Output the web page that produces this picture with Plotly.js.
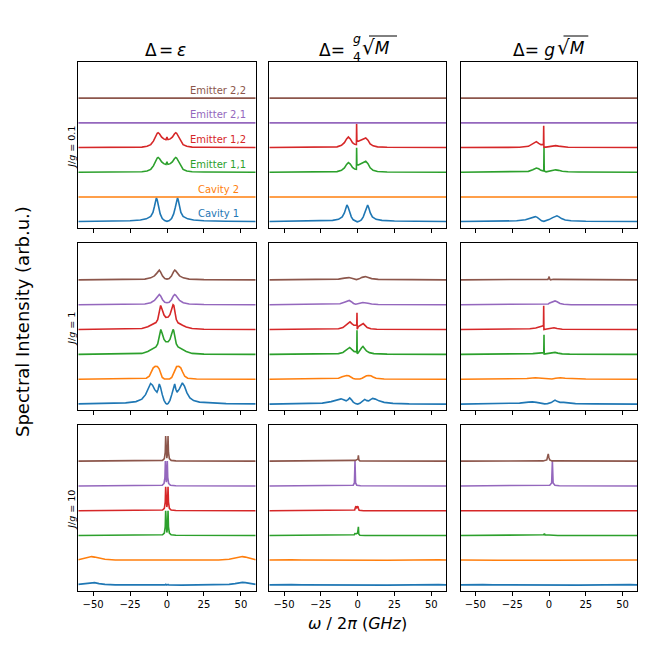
<!DOCTYPE html>
<html>
<head>
<meta charset="utf-8">
<script src="https://cdn.plot.ly/plotly-3.0.1.min.js"></script>
<style>html,body{margin:0;padding:0;background:#fff}#chart{width:648px;height:648px}</style>
</head>
<body>
<div id="chart"></div>
<script>
// Stacked spectra: 3 detunings (columns) x 3 couplings J/g (rows), 6 modes each
const SERIES = ['Cavity 1', 'Cavity 2', 'Emitter 1,1', 'Emitter 1,2', 'Emitter 2,1', 'Emitter 2,2'];
const COLORS = ['#1f77b4', '#ff7f0e', '#2ca02c', '#d62728', '#9467bd', '#8c564b'];
const OFFSETS = [0, 1, 2, 3, 4, 5];
const XTICKS = [-50, -25, 0, 25, 50];
const ROW_LABELS = ['<i>J</i>/<i>g</i> = 0.1', '<i>J</i>/<i>g</i> = 1', '<i>J</i>/<i>g</i> = 10'];

// each curve: [omega/2pi (GHz), intensity]
const FLAT = [[-60, 0], [60, 0]];

// row 1: J/g = 0.1
const P11_CAV1 = [[-60,0.01],[-40,0.02],[-25,0.04],[-18,0.07],[-14,0.12],[-11,0.22],[-9.5,0.38],[-8.5,0.62],[-7.7,0.88],[-7.2,0.97],[-6.6,0.88],[-5.7,0.58],[-4.6,0.32],[-3.2,0.13],[-1.6,0.05],[0,0.02],[1.6,0.05],[3.1,0.13],[4.5,0.32],[5.6,0.58],[6.5,0.88],[7.1,0.97],[7.6,0.88],[8.4,0.62],[9.4,0.38],[10.9,0.22],[14,0.12],[18,0.07],[25,0.04],[40,0.02],[60,0.01]];
const P11_EM11 = [[-60,0],[-25,0.01],[-17,0.02],[-13.5,0.05],[-11,0.12],[-9.2,0.26],[-7.7,0.46],[-6.6,0.58],[-6,0.6],[-5,0.55],[-3.6,0.42],[-2.2,0.35],[-0.7,0.32],[-0.25,0.36],[0,0.43],[0.25,0.36],[0.7,0.32],[2.2,0.35],[3.6,0.42],[5,0.55],[5.9,0.6],[6.5,0.58],[7.6,0.46],[9.1,0.26],[10.9,0.12],[13.4,0.05],[17,0.02],[25,0.01],[60,0]];
const P11_EM12 = [[-60,0],[-25,0.01],[-17,0.02],[-13.5,0.05],[-11,0.12],[-9.2,0.26],[-7.7,0.46],[-6.6,0.58],[-6,0.6],[-5,0.55],[-3.6,0.42],[-2.2,0.35],[-0.7,0.32],[-0.25,0.36],[0,0.43],[0.25,0.36],[0.7,0.32],[2.2,0.35],[3.6,0.42],[5,0.55],[5.9,0.6],[6.5,0.58],[7.6,0.46],[9.1,0.26],[10.9,0.12],[13.4,0.05],[17,0.02],[25,0.01],[60,0]];

const P12_CAV1 = [[-60,0.01],[-40,0.02],[-25,0.03],[-17,0.06],[-13,0.1],[-10.5,0.2],[-9,0.36],[-8,0.56],[-7.3,0.68],[-6.5,0.6],[-5.5,0.4],[-4.3,0.2],[-3,0.08],[-1.5,0.02],[-0.3,0],[1,0.02],[2.5,0.08],[3.8,0.2],[5,0.4],[6,0.6],[6.8,0.68],[7.6,0.56],[8.6,0.36],[10,0.2],[12.5,0.1],[16.5,0.06],[25,0.03],[40,0.02],[60,0.01]];
const P12_EM11 = [[-60,0],[-20,0.01],[-14,0.03],[-11,0.08],[-9,0.18],[-7.5,0.32],[-6.3,0.39],[-5,0.33],[-3.5,0.2],[-2,0.13],[-0.85,0.12],[-0.7,0.99],[-0.5,0.3],[0.5,0.3],[2,0.34],[3.5,0.4],[5.5,0.45],[7,0.35],[8.5,0.18],[10.5,0.08],[13.5,0.03],[20,0.01],[60,0]];
const P12_EM12 = [[-60,0],[-20,0.01],[-14,0.03],[-11,0.09],[-9,0.2],[-7.5,0.35],[-6.3,0.43],[-5,0.35],[-3.5,0.2],[-2,0.13],[-0.85,0.12],[-0.7,0.96],[-0.5,0.25],[0.5,0.26],[2,0.3],[3.5,0.35],[5.5,0.39],[7,0.3],[8.5,0.15],[10.5,0.07],[13.5,0.03],[20,0.01],[60,0]];

const P13_CAV1 = [[-60,0.01],[-35,0.02],[-22,0.04],[-16,0.08],[-12.5,0.14],[-10.5,0.19],[-9.3,0.21],[-8,0.18],[-6.5,0.1],[-5,0.04],[-3.5,0.02],[-2,0.04],[0,0.09],[2.5,0.17],[4.3,0.23],[5.4,0.24],[6.8,0.2],[8.5,0.13],[11,0.07],[15,0.04],[25,0.02],[60,0.01]];
const P13_EM11 = [[-60,0],[-20,0.01],[-14,0.04],[-11,0.1],[-8.6,0.17],[-7,0.14],[-5.5,0.08],[-4,0.06],[-3.55,0.07],[-3.4,0.99],[-3.25,0.05],[-2,0.02],[0,0.04],[2.5,0.08],[4.5,0.1],[6.5,0.08],[9,0.04],[13,0.02],[20,0.01],[60,0]];
const P13_EM12 = [[-60,0],[-20,0.01],[-14,0.05],[-11,0.14],[-8.6,0.24],[-7,0.17],[-5.5,0.12],[-4.2,0.13],[-3.75,0.15],[-3.6,0.88],[-3.45,0.02],[-2,0.02],[0,0.04],[2.5,0.07],[4.5,0.08],[6.5,0.06],[9,0.03],[13,0.01],[60,0]];

// row 2: J/g = 1
const P21_CAV1 = [[-60,0.01],[-40,0.02],[-28,0.05],[-21,0.1],[-17,0.2],[-14.5,0.38],[-12.7,0.64],[-11.1,0.83],[-9.8,0.76],[-8.3,0.58],[-6.8,0.48],[-6,0.6],[-5.2,0.81],[-4.4,0.68],[-3.2,0.38],[-2,0.15],[-0.8,0.03],[0,0],[0.8,0.03],[2,0.15],[3.2,0.38],[4.4,0.68],[5.2,0.81],[6,0.6],[6.8,0.48],[8.3,0.6],[9.3,0.76],[10.4,0.85],[11.8,0.72],[13.5,0.45],[15.5,0.25],[18,0.14],[22,0.08],[28,0.05],[40,0.02],[60,0.01]];
const P21_CAV2 = [[-60,0],[-20,0.01],[-14,0.04],[-12,0.12],[-10.5,0.3],[-9.3,0.46],[-8,0.52],[-6.5,0.51],[-5.3,0.42],[-4.3,0.22],[-3.2,0.07],[-1.8,0.01],[0,0],[1.8,0.01],[3.2,0.07],[4.3,0.22],[5.3,0.42],[6.5,0.51],[8,0.52],[9.3,0.46],[10.5,0.3],[12,0.12],[14,0.04],[20,0.01],[60,0]];
const P21_EM11 = [[-60,0],[-25,0.01],[-17,0.04],[-13,0.12],[-10.5,0.2],[-9,0.25],[-7.5,0.3],[-6.3,0.42],[-5.5,0.7],[-4.6,0.97],[-4.2,1.0],[-3.3,0.85],[-2,0.6],[-0.8,0.51],[0,0.5],[0.8,0.51],[2,0.6],[3.3,0.85],[4.1,1.0],[4.5,0.97],[5.5,0.7],[6.3,0.42],[7.5,0.3],[9,0.25],[10.5,0.2],[13,0.12],[17,0.04],[25,0.01],[60,0]];
const P21_EM12 = [[-60,0],[-25,0.01],[-17,0.04],[-13,0.11],[-10.5,0.18],[-9,0.22],[-7.5,0.28],[-6.3,0.4],[-5.5,0.68],[-4.6,0.95],[-4.3,0.97],[-3.4,0.83],[-2,0.58],[-0.8,0.49],[0,0.48],[0.8,0.5],[2,0.6],[3.3,0.86],[4.1,1.0],[4.6,0.97],[5.5,0.68],[6.3,0.4],[7.5,0.27],[9,0.21],[10.5,0.17],[13,0.1],[17,0.04],[25,0.01],[60,0]];
const P21_EM21 = [[-60,0],[-25,0.01],[-15,0.03],[-11,0.08],[-8.5,0.17],[-7,0.28],[-5.8,0.39],[-5.2,0.41],[-4.3,0.35],[-3,0.2],[-1.5,0.1],[0,0.08],[1.5,0.1],[3,0.2],[4.3,0.35],[5.2,0.41],[5.8,0.39],[7,0.28],[8.5,0.17],[11,0.08],[15,0.03],[25,0.01],[60,0]];
const P21_EM22 = [[-60,0],[-25,0.01],[-15,0.03],[-11,0.08],[-8.5,0.16],[-7,0.26],[-5.8,0.37],[-5.2,0.39],[-4.3,0.31],[-3,0.15],[-1.5,0.05],[0,0.03],[1.5,0.05],[3,0.15],[4.3,0.31],[5.2,0.39],[5.8,0.37],[7,0.26],[8.5,0.16],[11,0.08],[15,0.03],[25,0.01],[60,0]];

const P22_CAV1 = [[-60,0],[-35,0.01],[-24,0.04],[-18,0.1],[-14,0.17],[-11.3,0.21],[-9.5,0.17],[-7.8,0.13],[-6.5,0.18],[-5.4,0.25],[-4.3,0.18],[-3,0.08],[-1.5,0.02],[0,0],[1.5,0.03],[3,0.1],[4.8,0.19],[6.3,0.14],[7.5,0.13],[9,0.19],[10.2,0.23],[12,0.2],[14.5,0.13],[18,0.07],[24,0.03],[35,0.01],[60,0]];
const P22_CAV2 = [[-60,0],[-18,0.01],[-13,0.04],[-10.5,0.1],[-8.8,0.14],[-7.5,0.15],[-6,0.14],[-4.5,0.08],[-3,0.03],[-1.5,0.01],[0,0],[1.5,0.01],[3,0.04],[4.5,0.1],[6,0.14],[7.5,0.15],[9,0.14],[10.5,0.09],[12.5,0.04],[18,0.01],[60,0]];
const P22_EM11 = [[-60,0],[-20,0.01],[-13,0.03],[-10,0.08],[-7.5,0.18],[-5.4,0.28],[-4,0.2],[-2.5,0.12],[-1,0.1],[-0.6,0.12],[-0.45,0.97],[-0.3,0.03],[0.3,0.06],[1.5,0.18],[2.7,0.27],[3.6,0.32],[4.6,0.24],[6,0.14],[8,0.07],[11,0.03],[20,0.01],[60,0]];
const P22_EM12 = [[-60,0],[-20,0.01],[-13,0.03],[-10,0.08],[-7.5,0.2],[-5.2,0.31],[-4,0.24],[-2.5,0.17],[-1,0.17],[-0.6,0.2],[-0.45,0.67],[-0.3,0.01],[0.5,0.12],[2,0.18],[3.8,0.24],[5,0.17],[6.5,0.08],[9,0.03],[13,0.01],[60,0]];
const P22_EM21 = [[-60,0],[-18,0.01],[-12,0.04],[-9,0.1],[-7,0.15],[-5.7,0.17],[-4.3,0.12],[-2.8,0.05],[-1.3,0.02],[0,0.03],[1.5,0.06],[3.5,0.09],[5.2,0.09],[7,0.06],[9.5,0.03],[14,0.01],[60,0]];
const P22_EM22 = [[-60,0],[-20,0.01],[-13,0.03],[-9,0.07],[-5.9,0.09],[-4,0.06],[-2,0.02],[-0.8,0.01],[1,0.04],[3,0.1],[5.2,0.13],[7,0.1],[9.5,0.05],[14,0.02],[25,0.01],[60,0]];

const P23_CAV1 = [[-60,0],[-30,0.01],[-20,0.04],[-14,0.08],[-11.3,0.09],[-8.5,0.07],[-5.5,0.03],[-3,0.01],[-1,0.02],[1.5,0.06],[3,0.12],[4.1,0.16],[5.5,0.11],[7.5,0.07],[10,0.07],[13,0.04],[18,0.02],[30,0.01],[60,0]];
const P23_CAV2 = [[-60,0],[-22,0.01],[-15,0.03],[-9.3,0.06],[-5,0.03],[-2,0.01],[0,0],[2,0.01],[4.5,0.04],[7.7,0.06],[11,0.04],[17,0.02],[25,0.01],[60,0]];
const P23_EM11 = [[-60,0],[-18,0.01],[-11,0.03],[-7,0.05],[-4.5,0.06],[-3.55,0.07],[-3.4,0.79],[-3.25,0.01],[-1.5,0.03],[0.5,0.05],[2.5,0.07],[4.1,0.08],[6,0.05],[9,0.02],[14,0.01],[60,0]];
const P23_EM12 = [[-60,0],[-20,0.01],[-13,0.03],[-9,0.06],[-6,0.1],[-4.5,0.14],[-3.75,0.17],[-3.6,0.96],[-3.45,0],[-1.5,0.02],[0.5,0.04],[2,0.06],[3.4,0.07],[5.5,0.04],[9,0.01],[60,0]];
const P23_EM21 = [[-60,0],[-10,0],[-3,0.01],[-0.5,0.03],[0.5,0.07],[2.5,0.11],[4.1,0.15],[5.5,0.12],[7.5,0.05],[10,0.02],[15,0],[60,0]];
const P23_EM22 = [[-60,0],[-15,0.01],[-6.8,0.03],[-3,0.01],[-0.8,0.02],[-0.2,0.08],[0.1,0.13],[0.4,0.04],[1,0],[3,0.02],[6,0.02],[10,0.01],[60,0]];

// row 3: J/g = 10
const P31_CAV1 = [[-60,0.03],[-56,0.06],[-53,0.1],[-51,0.11],[-49,0.1],[-46,0.06],[-42,0.03],[-35,0.01],[-10,0],[-1.2,0.01],[-0.8,0.03],[-0.1,0],[0.7,0.03],[1.1,0.01],[10,0],[35,0.01],[42,0.03],[46,0.06],[49,0.1],[51,0.11],[53,0.1],[56,0.06],[60,0.03]];
const P31_CAV2 = [[-60,0.02],[-56,0.08],[-53,0.13],[-51,0.15],[-49,0.13],[-46,0.08],[-42,0.04],[-35,0.01],[-10,0],[-1.2,0.01],[-0.8,0.02],[-0.1,0],[0.7,0.02],[1.1,0.01],[10,0],[35,0.01],[42,0.04],[46,0.08],[49,0.13],[51,0.15],[53,0.13],[56,0.08],[60,0.02]];
const P31_EM11 = [[-60,0],[-6,0.01],[-3,0.03],[-1.8,0.1],[-1.2,0.35],[-0.9,1.0],[-0.6,0.35],[-0.1,0.12],[0.4,0.35],[0.7,1.0],[1.0,0.35],[1.6,0.1],[2.8,0.03],[6,0.01],[60,0]];
const P31_EM12 = [[-60,0],[-6,0.01],[-3,0.03],[-1.8,0.1],[-1.2,0.35],[-0.9,0.97],[-0.6,0.35],[-0.1,0.15],[0.4,0.35],[0.7,0.97],[1.0,0.35],[1.6,0.1],[2.8,0.03],[6,0.01],[60,0]];
const P31_EM21 = [[-60,0],[-6,0.01],[-3.2,0.03],[-2,0.1],[-1.4,0.35],[-1.1,1.0],[-0.8,0.35],[-0.45,0.15],[-0.1,0.35],[0.2,1.0],[0.5,0.35],[1.1,0.1],[2.3,0.03],[6,0.01],[60,0]];
const P31_EM22 = [[-60,0],[-6,0.01],[-3,0.03],[-1.8,0.1],[-1.2,0.35],[-0.9,1.01],[-0.6,0.35],[-0.1,0.12],[0.4,0.35],[0.7,1.01],[1.0,0.35],[1.6,0.1],[2.8,0.03],[6,0.01],[60,0]];

const P32_CAV1 = [[-60,0.01],[-55,0.02],[-50,0.03],[-45,0.02],[-38,0.01],[-20,0],[20,0],[38,0.01],[45,0.02],[50,0.03],[55,0.02],[60,0.01]];
const P32_CAV2 = [[-60,0.01],[-55,0.02],[-50,0.03],[-45,0.02],[-38,0.01],[-20,0],[20,0],[38,0.01],[45,0.02],[50,0.03],[55,0.02],[60,0.01]];
const P32_EM11 = [[-60,0],[-5,0.01],[-2.3,0.03],[-1.9,0.08],[-0.8,0.07],[0,0.1],[0.3,0.18],[0.5,0.35],[0.75,0.06],[1.5,0.01],[5,0],[60,0]];
const P32_EM12 = [[-60,0],[-4,0.01],[-2,0.03],[-1.5,0.14],[-1.1,0.18],[-0.6,0.12],[-0.2,0.17],[0.1,0.18],[0.5,0.1],[1,0.02],[4,0],[60,0]];
const P32_EM21 = [[-60,0],[-5,0.01],[-3,0.03],[-2.2,0.12],[-1.8,1.0],[-1.4,0.12],[-0.6,0.03],[2,0.01],[60,0]];
const P32_EM22 = [[-60,0],[-4,0.01],[-1.5,0.03],[-0.5,0.06],[0.2,0.08],[0.5,0.23],[0.8,0.05],[1.5,0.01],[60,0]];

const P33_CAV1 = [[-60,0.01],[-55,0.02],[-50,0.03],[-45,0.02],[-38,0.01],[-20,0],[20,0],[38,0.01],[45,0.02],[50,0.03],[55,0.02],[60,0.01]];
const P33_CAV2 = [[-60,0.01],[-50,0.015],[-35,0.005],[0,0],[35,0.005],[50,0.015],[60,0.01]];
const P33_EM11 = [[-60,0],[-6,0.01],[-3.6,0.03],[-3.1,0.08],[-2.6,0.02],[0,0.02],[2,0.01],[6,0],[60,0]];
const P33_EM12 = [[-60,0],[-6,0],[-4.2,0.03],[-3.5,0.01],[2,0.01],[60,0]];
const P33_EM21 = [[-60,0],[-2,0.01],[0.5,0.03],[1.8,0.12],[2.3,1.0],[2.8,0.12],[4,0.03],[7,0.01],[60,0]];
const P33_EM22 = [[-60,0],[-4,0.01],[-1.5,0.05],[-0.9,0.15],[-0.5,0.29],[-0.1,0.15],[0.5,0.05],[2,0.01],[60,0]];

const PANELS = [
  [[P11_CAV1, FLAT, P11_EM11, P11_EM12, FLAT, FLAT],
   [P12_CAV1, FLAT, P12_EM11, P12_EM12, FLAT, FLAT],
   [P13_CAV1, FLAT, P13_EM11, P13_EM12, FLAT, FLAT]],
  [[P21_CAV1, P21_CAV2, P21_EM11, P21_EM12, P21_EM21, P21_EM22],
   [P22_CAV1, P22_CAV2, P22_EM11, P22_EM12, P22_EM21, P22_EM22],
   [P23_CAV1, P23_CAV2, P23_EM11, P23_EM12, P23_EM21, P23_EM22]],
  [[P31_CAV1, P31_CAV2, P31_EM11, P31_EM12, P31_EM21, P31_EM22],
   [P32_CAV1, P32_CAV2, P32_EM11, P32_EM12, P32_EM21, P32_EM22],
   [P33_CAV1, P33_CAV2, P33_EM11, P33_EM12, P33_EM21, P33_EM22]],
];

// --- layout geometry (pixels in a 648x648 figure) ---
const W = 648, H = 648;
const FONT = 'DejaVu Sans';
const XDOM = [[78.3, 255.7], [269.3, 446], [460.7, 637.3]];
const YDOM = [[61.7, 228], [243.3, 410.3], [424.7, 591.3]];
const px = x => x / W;
const py = y => 1 - y / H;
const sfx = k => (k === 1 ? '' : String(k));

const traces = [];
const layout = {
  width: W, height: H, margin: { l: 0, r: 0, t: 0, b: 0, pad: 0 },
  paper_bgcolor: '#fff', plot_bgcolor: '#fff', showlegend: false,
  font: { family: FONT, color: '#000' },
  annotations: [], shapes: [],
};

PANELS.forEach((row, r) => row.forEach((panel, c) => {
  const k = r * 3 + c + 1;
  panel.forEach((pts, s) => {
    traces.push({
      x: pts.map(p => p[0]), y: pts.map(p => p[1] + OFFSETS[s]),
      xaxis: 'x' + sfx(k), yaxis: 'y' + sfx(k), mode: 'lines', name: SERIES[s],
      line: { color: COLORS[s], width: 1.6 }, hoverinfo: 'skip',
    });
  });
  layout['xaxis' + sfx(k)] = {
    domain: [px(XDOM[c][0]), px(XDOM[c][1])], anchor: 'y' + sfx(k), range: [-60, 60],
    tickvals: XTICKS, showticklabels: r === 2, ticks: 'outside', ticklen: 4, tickwidth: 1, tickcolor: '#000',
    showline: true, mirror: true, linecolor: '#000', linewidth: 1, showgrid: false, zeroline: false,
    tickfont: { family: FONT, size: 10, color: '#000' },
  };
  layout['yaxis' + sfx(k)] = {
    domain: [py(YDOM[r][1]), py(YDOM[r][0])], anchor: 'x' + sfx(k), range: [-0.25, 6.47],
    showticklabels: false, ticks: '', showline: true, mirror: true, linecolor: '#000', linewidth: 1,
    showgrid: false, zeroline: false,
  };
}));

// title pieces, placed by baseline (box middle sits ~0.346em above the baseline)
function piece(text, x, base, size, xanchor) {
  layout.annotations.push({
    text, x: px(x), y: py(base - 0.346 * size), xref: 'paper', yref: 'paper',
    xanchor: xanchor || 'center', yanchor: 'middle', showarrow: false, borderpad: 0,
    font: { family: FONT, size, color: '#000' },
  });
}
// radical + radicand; the root sign is set a bit larger, box bottom at baseline + descent
function root(text, x, base) {
  layout.annotations.push({
    text: '<span style="font-size:20px">√</span>' + text, x: px(x), y: py(base + 4.7),
    xref: 'paper', yref: 'paper', xanchor: 'left', yanchor: 'bottom', showarrow: false, borderpad: 0,
    font: { family: FONT, size: 17, color: '#000' },
  });
}
function overline(x0, x1, y) {
  layout.shapes.push({ type: 'line', xref: 'paper', yref: 'paper', x0: px(x0), x1: px(x1), y0: py(y), y1: py(y),
    line: { color: '#000', width: 1 } });
}

// column titles
piece('Δ', 150.8, 55.5, 17); piece('=', 165.8, 55.5, 17); piece('<i>ε</i>', 181.7, 55.5, 17);
piece('Δ=', 346, 55.5, 17, 'right');
piece('<i>g</i>', 357, 42.5, 12.5); piece('4', 357, 60.5, 12.5);
root('<i>M</i>', 361, 55.5); overline(369, 397, 36);
piece('Δ= <i>g</i>', 556, 55.5, 17, 'right');
root('<i>M</i>', 556, 55.5); overline(563.5, 588.3, 36);

// row labels
const ROW_Y = [147, 329, 510];
ROW_LABELS.forEach((t, r) => layout.annotations.push({
  text: t, x: px(70.8), y: py(ROW_Y[r]), xref: 'paper', yref: 'paper', textangle: -90,
  xanchor: 'center', yanchor: 'middle', showarrow: false, font: { family: FONT, size: 9.5, color: '#000' },
}));

// series labels inside the first panel
SERIES.forEach((name, s) => layout.annotations.push({
  text: name, x: 34.5, y: OFFSETS[s] + 0.32, xref: 'x', yref: 'y', xanchor: 'center', yanchor: 'middle',
  showarrow: false, font: { family: FONT, size: 10, color: COLORS[s] },
}));

// shared axis labels
layout.annotations.push({
  text: 'Spectral Intensity (arb.u.)', x: px(22), y: py(322), xref: 'paper', yref: 'paper', textangle: -90,
  xanchor: 'center', yanchor: 'middle', showarrow: false, font: { family: FONT, size: 18, color: '#000' },
});
layout.annotations.push({
  text: '<i>ω</i> / 2<i>π</i> (<i>GHz</i>)', x: px(357.7), y: py(623), xref: 'paper', yref: 'paper',
  xanchor: 'center', yanchor: 'middle', showarrow: false, font: { family: FONT, size: 16, color: '#000' },
});

Plotly.newPlot('chart', traces, layout, { staticPlot: true, displayModeBar: false });
</script>
</body>
</html>
